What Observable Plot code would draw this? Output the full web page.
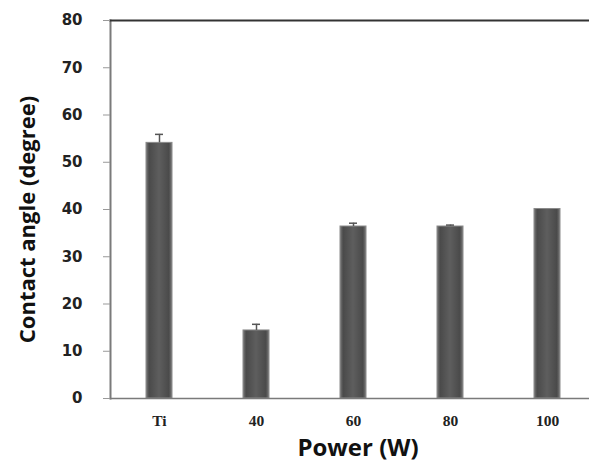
<!DOCTYPE html>
<html>
<head>
<meta charset="utf-8">
<script src="https://cdn.jsdelivr.net/npm/d3@7"></script>
<script src="https://cdn.jsdelivr.net/npm/@observablehq/plot@0.6"></script>
<style>
  html, body { margin: 0; padding: 0; background: #fff; }
</style>
</head>
<body>
<div id="chart"></div>
<script>
const categories = ["Ti", "40", "60", "80", "100"];
const values = [54.1, 14.4, 36.4, 36.4, 40.1];
const errors = [1.8, 1.3, 0.7, 0.3, 0];
const yTicks = [0, 10, 20, 30, 40, 50, 60, 70, 80];
const xLabel = "Power (W)";
const yLabel = "Contact angle (degree)";

const data = categories.map((c, i) => ({cat: c, v: values[i], e: errors[i]}));
const errData = data.filter(d => d.e > 0);

const chart = Plot.plot({
  width: 589,
  height: 466,
  marginLeft: 110,
  marginRight: 0,
  marginTop: 20,
  marginBottom: 68,
  style: {background: "#fff"},
  x: {domain: categories, range: [110, 595], paddingInner: 0.737, paddingOuter: 0.3685},
  y: {domain: [0, 80], range: [398, 20]},
  marks: [
    Plot.barY(data, {x: "cat", y: "v", fill: "url(#barGrad)", stroke: "#8a8a8a", strokeWidth: 1}),
    Plot.ruleX(errData, {x: "cat", y1: "v", y2: d => d.v + d.e, stroke: "#555", strokeWidth: 1.5}),
    Plot.tickY(errData, {x: "cat", y: d => d.v + d.e, stroke: "#555", strokeWidth: 1.5, insetLeft: 9, insetRight: 9}),
    Plot.frame({anchor: "left", stroke: "#7a7a7a", strokeWidth: 2}),
    Plot.frame({anchor: "bottom", stroke: "#7a7a7a", strokeWidth: 1.5}),
    Plot.frame({anchor: "top", stroke: "#333", strokeWidth: 2}),
    Plot.axisY({ticks: yTicks, tickSize: 7, tickPadding: 21, stroke: "#999", fill: "#222",
      fontSize: 15, fontWeight: "bold", fontFamily: "DejaVu Sans", label: null}),
    Plot.axisX({tickSize: 0, tickPadding: 16, fill: "#222", fontSize: 15.5, fontWeight: "bold",
      fontFamily: "Liberation Serif", label: null}),
    Plot.text([xLabel], {frameAnchor: "bottom", text: d => d, dx: 8, dy: 57, fontSize: 24,
      fontWeight: "bold", fontFamily: "Open Sans", fill: "#111"}),
    Plot.text([yLabel], {frameAnchor: "left", textAnchor: "middle", text: d => d, dx: -83, dy: 10, rotate: -90, fontSize: 22,
      fontWeight: "bold", fontFamily: "Open Sans", fill: "#111"})
  ]
});

const ns = "http://www.w3.org/2000/svg";
const defs = document.createElementNS(ns, "defs");
defs.innerHTML = `<linearGradient id="barGrad" x1="0" x2="1" y1="0" y2="0">
  <stop offset="0%" stop-color="#7a7a7a"/>
  <stop offset="12%" stop-color="#4a4a4a"/>
  <stop offset="50%" stop-color="#5e5e5e"/>
  <stop offset="88%" stop-color="#4a4a4a"/>
  <stop offset="100%" stop-color="#7a7a7a"/>
</linearGradient>`;
chart.insertBefore(defs, chart.firstChild);
document.getElementById("chart").appendChild(chart);
</script>
</body>
</html>
